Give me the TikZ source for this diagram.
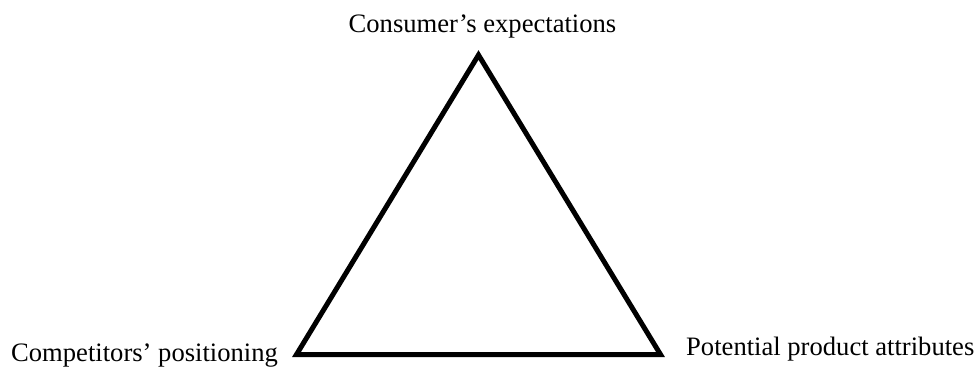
\documentclass[tikz,border=0pt]{standalone}
\usepackage{fontspec}
\setmainfont{Liberation Serif}
\tikzset{
  lbl/.style={inner sep=0pt, font=\fontsize{26.6}{30}\selectfont},
  tri/.style={line width=5pt, line join=miter, draw=black}
}
\begin{document}
\begin{tikzpicture}[x=1pt,y=1pt]
\useasboundingbox (0,0) rectangle (978,-372);
\coordinate (top) at (478.5,-55);
\coordinate (left) at (296.5,-354.5);
\coordinate (right) at (660.5,-354.5);
\draw[tri] (top) -- (left) -- (right) -- cycle;
\node[lbl, anchor=base] (cons) at (482.5,-32) {Consumer’s expectations};
\node[lbl, anchor=base west] (comp) at (11,-361.5) {Competitors’ positioning};
\node[lbl, anchor=base west] (pot) at (686,-355.5) {Potential product attributes};
\end{tikzpicture}
\end{document}
